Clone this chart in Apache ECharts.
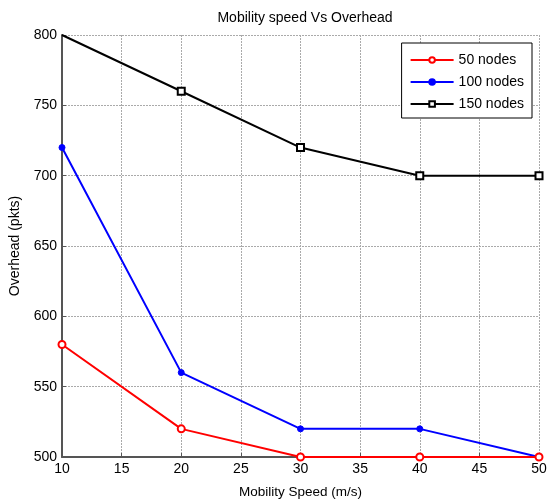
<!DOCTYPE html>
<html><head><meta charset="utf-8">
<script src="https://cdn.jsdelivr.net/npm/echarts@6/dist/echarts.min.js"></script>
<style>html,body{margin:0;padding:0;background:#fff}#c{width:551px;height:504px}</style>
</head><body><div id="c"></div>
<script>
const speeds = [10, 20, 30, 40, 50];
const nodes50 = [580, 520, 500, 500, 500];
const nodes100 = [720, 560, 520, 520, 500];
const nodes150 = [800, 760, 720, 700, 700];
const seriesNames = ['50 nodes', '100 nodes', '150 nodes'];

const chart = echarts.init(document.getElementById('c'));
const font = 'Liberation Sans, Arial, sans-serif';
function pts(v){ return speeds.map((s,i)=>[s, v[i]]); }
// in the reference the corner marker of the top series is not visible
const data150 = pts(nodes150).map((p,i)=> i === 0 ? { value: p, symbol: 'none' } : p);
const grid = { color: '#aaa', type: [2, 1], width: 1 };
chart.setOption({
  animation: false,
  backgroundColor: '#fff',
  title: { text: 'Mobility speed Vs Overhead', left: 300, top: 6, textAlign: 'center',
    textStyle: { fontSize: 14, fontWeight: 'normal', color: '#000', fontFamily: font } },
  grid: { left: 62, right: 12, top: 35, bottom: 46 },
  legend: {
    orient: 'vertical', right: 19, top: 43, itemWidth: 43, itemHeight: 7, itemGap: 6,
    backgroundColor: '#fff', borderColor: '#000', borderWidth: 1, padding: [9, 8, 6, 8],
    textStyle: { fontSize: 14, color: '#000', fontFamily: font, lineHeight: 16 },
    data: seriesNames
  },
  xAxis: {
    type: 'value', min: 10, max: 50, interval: 5,
    name: 'Mobility Speed (m/s)', nameLocation: 'middle', nameGap: 28,
    nameTextStyle: { fontSize: 13.5, color: '#000', fontFamily: font },
    axisLine: { lineStyle: { color: '#555', width: 2 } },
    axisTick: { show: true, inside: true, length: 4, lineStyle: { color: '#555' } },
    axisLabel: { fontSize: 14, color: '#000', fontFamily: font, margin: 5 },
    splitLine: { show: true, lineStyle: grid }
  },
  yAxis: {
    type: 'value', min: 500, max: 800, interval: 50,
    name: 'Overhead (pkts)', nameLocation: 'middle', nameGap: 40,
    nameTextStyle: { fontSize: 14, color: '#000', fontFamily: font },
    axisLine: { show: true, lineStyle: { color: '#555', width: 2 } },
    axisTick: { show: true, inside: true, length: 4, lineStyle: { color: '#555' } },
    axisLabel: { fontSize: 14, color: '#000', fontFamily: font, margin: 5 },
    splitLine: { show: true, lineStyle: grid }
  },
  series: [
    { name: seriesNames[0], type: 'line', data: pts(nodes50), color: '#ff0000',
      lineStyle: { width: 2, color: '#ff0000' }, symbol: 'circle', symbolSize: 7,
      itemStyle: { color: '#fff', borderColor: '#ff0000', borderWidth: 2 }, z: 4 },
    { name: seriesNames[1], type: 'line', data: pts(nodes100), color: '#0000ff',
      lineStyle: { width: 2, color: '#0000ff' }, symbol: 'circle', symbolSize: 6,
      itemStyle: { color: '#0000ff', borderColor: '#0000ff', borderWidth: 1 }, z: 3 },
    { name: seriesNames[2], type: 'line', data: data150, color: '#000',
      lineStyle: { width: 2, color: '#000' }, symbol: 'rect', symbolSize: 7,
      itemStyle: { color: '#fff', borderColor: '#000', borderWidth: 2 }, z: 3 }
  ]
});
</script></body></html>
